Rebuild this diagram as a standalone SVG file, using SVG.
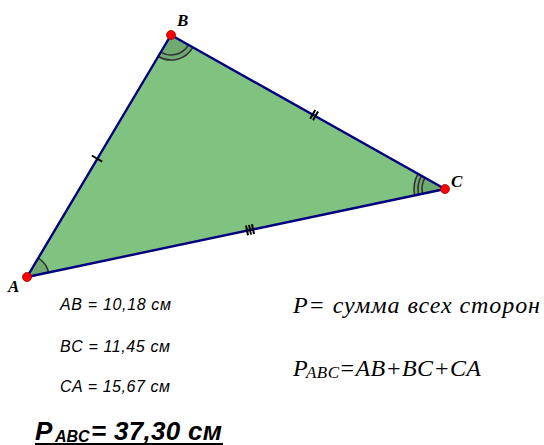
<svg xmlns="http://www.w3.org/2000/svg" width="544" height="445" viewBox="0 0 544 445">
<style>
.side{stroke:#00007f;stroke-width:2.4;fill:none;stroke-linecap:round}
.tick{stroke:#000;stroke-width:2}
.arc{stroke:#333;stroke-width:1.6;fill:none}
.sector{fill:#5f8f5f;fill-opacity:0.45;stroke:none}
.pt{fill:#ff0000;stroke:#a00000;stroke-width:0.8}
.lbl{font-family:"Liberation Serif",serif;font-style:italic;font-weight:bold;font-size:17px;fill:#000}
.meas{font-family:"Liberation Sans",Arial,sans-serif;font-style:italic;font-size:16px;fill:#000}
.form{font-family:"Liberation Serif","Times New Roman",serif;font-style:italic;font-size:24px;fill:#000}
.res{font-family:"Liberation Sans",Arial,sans-serif;font-style:italic;font-weight:bold;fill:#000}
</style>
<rect width="544" height="445" fill="#fff"/>
<g id="triangle">
<polygon points="27,277 171,35 445,189" fill="#80c280" stroke="none"/>
<path class="sector" d="M27,277 L38.27,258.1 A22,22 0 0 1 48.53,272.48 Z"/>
<path class="sector" d="M171,35 L192.78,47.27 A25,25 0 0 1 158.2,56.48 Z"/>
<path class="sector" d="M445,189 L414.66,195.37 A31,31 0 0 1 417.99,173.78 Z"/>
<path class="arc" d="M38.27,258.1 A22,22 0 0 1 48.53,272.48"/>
<path class="arc" d="M188.42,44.82 A20,20 0 0 1 160.76,52.18"/>
<path class="arc" d="M192.78,47.27 A25,25 0 0 1 158.2,56.48"/>
<path class="arc" d="M422.49,193.72 A23,23 0 0 1 424.96,177.71"/>
<path class="arc" d="M418.58,194.55 A27,27 0 0 1 421.48,175.75"/>
<path class="arc" d="M414.66,195.37 A31,31 0 0 1 417.99,173.78"/>
</g>
<g id="connectors">
<line class="side" x1="27" y1="277" x2="171" y2="35"/>
<line class="side" x1="171" y1="35" x2="445" y2="189"/>
<line class="side" x1="445" y1="189" x2="27" y2="277"/>
<line class="tick" x1="91.8" y1="155.5" x2="102.2" y2="161.7"/>
<line class="tick" x1="315.2" y1="109.9" x2="310.2" y2="118.7"/>
<line class="tick" x1="318.0" y1="111.4" x2="313.0" y2="120.2"/>
<line class="tick" x1="246.0" y1="225.5" x2="248.0" y2="235.2"/>
<line class="tick" x1="249.0" y1="224.9" x2="251.0" y2="234.6"/>
<line class="tick" x1="252.0" y1="224.3" x2="254.0" y2="234.0"/>
</g>
<g id="A"><circle class="pt" cx="27" cy="277" r="4.5"/><text class="lbl" x="8" y="292">A</text></g>
<g id="B"><circle class="pt" cx="171" cy="35" r="4.5"/><text class="lbl" x="177" y="26">B</text></g>
<g id="C"><circle class="pt" cx="445" cy="189" r="4.5"/><text class="lbl" x="451" y="187">C</text></g>
<g id="measures">
<text class="meas" x="60" y="310" textLength="111" lengthAdjust="spacing">AB = 10,18 см</text>
<text class="meas" x="60" y="352" textLength="110" lengthAdjust="spacing">BC = 11,45 см</text>
<text class="meas" x="60" y="392" textLength="110" lengthAdjust="spacing">CA = 15,67 см</text>
</g>
<g id="result">
<text class="res" x="35" y="440" font-size="26">P<tspan x="55" y="442" font-size="16">ABC</tspan><tspan x="91" y="440" font-size="26" textLength="131" lengthAdjust="spacing">= 37,30 см</tspan></text>
<line x1="35" y1="444" x2="223" y2="444" stroke="#000" stroke-width="2"/>
</g>
<g id="formulas">
<text class="form" x="293" y="313" textLength="247" lengthAdjust="spacing">P= сумма всех сторон</text>
<text class="form" x="293" y="376">P<tspan x="306" y="378" font-size="17" textLength="33" lengthAdjust="spacing">ABC</tspan><tspan x="339" y="376" textLength="142" lengthAdjust="spacing">=AB+BC+CA</tspan></text>
</g>
</svg>
